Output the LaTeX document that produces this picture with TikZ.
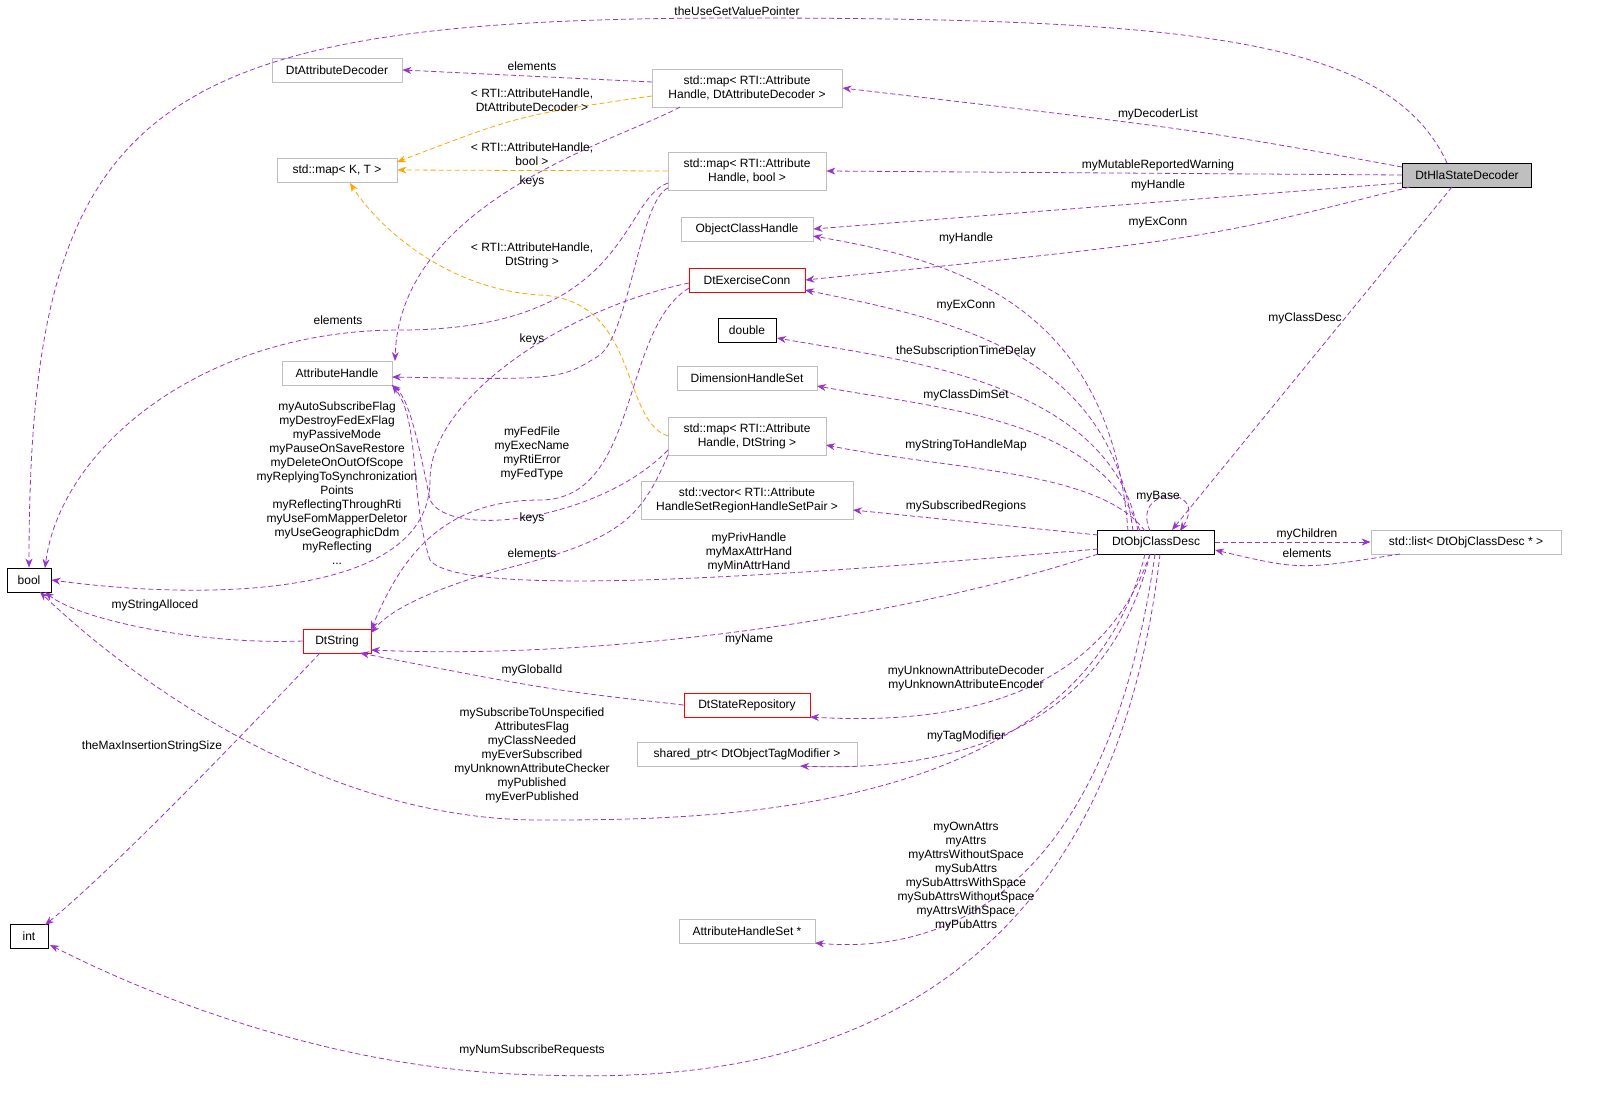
\documentclass[tikz,border=0pt]{standalone}
\usepackage{fontspec}
\setmainfont{Liberation Sans}
\usetikzlibrary{arrows.meta}
\definecolor{pur}{HTML}{9A32CD}
\definecolor{org}{HTML}{FFA500}
\definecolor{gb}{HTML}{BFBFBF}
\begin{document}
\begin{tikzpicture}[x=1pt,y=-1pt,
  font=\fontsize{12}{14}\selectfont,
  box/.style={draw=gb,fill=white,minimum height=24pt,inner sep=2pt,align=center,line width=0.8pt},
  bbox/.style={box,draw=black},
  rbox/.style={box,draw=red},
  e/.style={draw=pur,line width=0.8pt,dashed,dash pattern=on 5pt off 3pt,-{Stealth[length=9pt,width=7pt]}},
  o/.style={e,draw=org},
  lb/.style={align=center,inner sep=0pt}]
\useasboundingbox (0,0) rectangle (1619,1116);
% nodes
\node[bbox,minimum width=44pt] (bool) at (29,580) {bool};
\node[bbox,minimum width=38pt] (int) at (29,936) {int};
\node[bbox,fill=gb,minimum width=129pt] (hla) at (1467,175) {DtHlaStateDecoder};
\node[bbox,minimum width=117pt] (desc) at (1156,542) {DtObjClassDesc};
\node[box,minimum width=190pt] (list) at (1466,542) {std::list< DtObjClassDesc * >};
\node[box,minimum width=130pt] (dec) at (337,70) {DtAttributeDecoder};
\node[box,minimum width=190pt,minimum height=38pt] (mapad) at (747,88) {std::map< RTI::Attribute\\Handle, DtAttributeDecoder >};
\node[box,minimum width=120pt] (mapkt) at (337,170) {std::map< K, T >};
\node[box,minimum width=158pt,minimum height=38pt] (mapb) at (747,171) {std::map< RTI::Attribute\\Handle, bool >};
\node[box,minimum width=132pt] (och) at (747,229) {ObjectClassHandle};
\node[rbox,minimum width=116pt] (exc) at (747,280) {DtExerciseConn};
\node[bbox,minimum width=58pt] (dbl) at (747,330) {double};
\node[box,minimum width=110pt] (ah) at (337,373) {AttributeHandle};
\node[box,minimum width=140pt] (dhs) at (747,378) {DimensionHandleSet};
\node[box,minimum width=158pt,minimum height=38pt] (maps) at (747,436) {std::map< RTI::Attribute\\Handle, DtString >};
\node[box,minimum width=212pt,minimum height=38pt] (vec) at (747,500) {std::vector< RTI::Attribute\\HandleSetRegionHandleSetPair >};
\node[rbox,minimum width=68pt] (dts) at (337,641) {DtString};
\node[rbox,minimum width=126pt] (rep) at (747,705) {DtStateRepository};
\node[box,minimum width=220pt] (sp) at (747,754) {shared\_ptr< DtObjectTagModifier >};
\node[box,minimum width=136pt] (ahs) at (747,931) {AttributeHandleSet *};
% edges from hla
\draw[e] (1447,163) .. controls (1390,40) and (1200,18) .. (740,18) .. controls (150,18) and (29,100) .. (bool.north);
\draw[e] (1402,167) .. controls (1200,130) .. (mapad.east);
\draw[e] (1402,175) -- (mapb.east);
\draw[e] (1402,183) -- (och.east);
\draw[e] (1410,187) .. controls (1200,240) .. (exc.east);
\draw[e] (1452,187) -- (1172,530);
% map AD
\draw[e] (652,82) -- (dec.east);
\draw[o] (652,96) .. controls (520,115) .. (397,162);
\draw[e] (680,107) .. controls (620,140) and (400,200) .. (395,361);
% map bool
\draw[o] (mapb.west) -- (mapkt.east);
\draw[e] (668,183) .. controls (620,200) and (630,330) .. (400,330) .. controls (200,330) and (60,450) .. (45,568);
\draw[e] (668,188) .. controls (640,200) and (630,330) .. (600,355) .. controls (560,380) .. (392,377);
% map DtString
\draw[o] (668,436) .. controls (620,420) and (640,300) .. (540,295) .. controls (450,290) and (380,230) .. (350,183);
\draw[e] (668,450) .. controls (600,520) and (450,540) .. (430,500) .. controls (420,450) and (410,400) .. (392,385);
\draw[e] (668,455) .. controls (640,520) and (620,540) .. (500,570) .. controls (430,590) and (390,610) .. (371,633);
% ExConn
\draw[e] (689,283) .. controls (560,310) and (430,400) .. (430,480) .. controls (430,600) and (200,600) .. (bool.east);
\draw[e] (689,288) .. controls (620,330) and (640,500) .. (540,500) .. controls (440,500) and (400,560) .. (371,630);
% desc
\draw[e] (1128,531) .. controls (1110,300) and (950,260) .. (813,236);
\draw[e] (1133,531) .. controls (1110,350) and (950,320) .. (805,290);
\draw[e] (1138,531) .. controls (1110,380) and (900,360) .. (777,338);
\draw[e] (1140,531) .. controls (1100,420) and (950,410) .. (817,386);
\draw[e] (1145,531) .. controls (1100,470) and (950,470) .. (826,445);
\draw[e] (1098,535) .. controls (1000,525) .. (853,510);
\draw[e] (1150,531) .. controls (1130,485) and (1210,485) .. (1180,531);
\draw[e] (desc.east) -- (list.west);
\draw[e] (1400,554) .. controls (1300,570) .. (1215,550);
\draw[e] (1098,549) .. controls (800,575) and (460,600) .. (430,560) .. controls (410,500) and (420,420) .. (392,385);
\draw[e] (1098,554) .. controls (900,620) and (600,660) .. (371,650);
\draw[e] (dts.west) .. controls (200,645) and (80,620) .. (45,592);
\draw[e] (320,653) .. controls (200,780) and (100,880) .. (45,925);
\draw[e] (rep.west) .. controls (550,690) .. (360,653);
\draw[e] (1150,554) .. controls (1100,700) and (950,725) .. (810,717);
\draw[e] (1150,554) .. controls (1100,760) and (900,770) .. (800,766);
\draw[e] (1145,554) .. controls (1080,820) and (700,820) .. (540,820) .. controls (300,820) and (100,650) .. (40,592);
\draw[e] (1155,554) .. controls (1100,940) and (900,950) .. (815,943);
\draw[e] (1160,554) .. controls (1100,1080) and (700,1080) .. (540,1075) .. controls (300,1070) and (100,970) .. (50,945);
% labels
\node[lb] (l1) at (737,11) {theUseGetValuePointer};
\node[lb] (l2) at (1158,114) {myDecoderList};
\node[lb] (l3) at (1158,165) {myMutableReportedWarning};
\node[lb] (l4) at (1158,185) {myHandle};
\node[lb] (l5) at (1158,223) {myExConn};
\node[lb] (l6) at (1305,318) {myClassDesc};
\node[lb] (l7) at (532,66) {elements};
\node[lb] (l8) at (532,100) {< RTI::AttributeHandle,\\DtAttributeDecoder >};
\node[lb] (l9) at (532,181) {keys};
\node[lb] (l10) at (532,154) {< RTI::AttributeHandle,\\bool >};
\node[lb] (l11) at (338,320) {elements};
\node[lb] (l12) at (532,255) {< RTI::AttributeHandle,\\DtString >};
\node[lb] (l13) at (532,339) {keys};
\node[lb] (l14) at (337,483) {myAutoSubscribeFlag\\myDestroyFedExFlag\\myPassiveMode\\myPauseOnSaveRestore\\myDeleteOnOutOfScope\\myReplyingToSynchronization\\Points\\myReflectingThroughRti\\myUseFomMapperDeletor\\myUseGeographicDdm\\myReflecting\\...};
\node[lb] (l15) at (532,453) {myFedFile\\myExecName\\myRtiError\\myFedType};
\node[lb] (l16) at (532,518) {keys};
\node[lb] (l17) at (532,553) {elements};
\node[lb] (l18) at (966,238) {myHandle};
\node[lb] (l19) at (966,306) {myExConn};
\node[lb] (l20) at (966,351) {theSubscriptionTimeDelay};
\node[lb] (l21) at (966,395) {myClassDimSet};
\node[lb] (l22) at (966,445) {myStringToHandleMap};
\node[lb] (l23) at (966,506) {mySubscribedRegions};
\node[lb] (l24) at (1158,497) {myBase};
\node[lb] (l25) at (1307,534) {myChildren};
\node[lb] (l26) at (1307,553) {elements};
\node[lb] (l27) at (749,552) {myPrivHandle\\myMaxAttrHand\\myMinAttrHand};
\node[lb] (l28) at (749,640) {myName};
\node[lb] (l29) at (155,605) {myStringAlloced};
\node[lb] (l30) at (152,746) {theMaxInsertionStringSize};
\node[lb] (l31) at (532,670) {myGlobalId};
\node[lb] (l32) at (966,678) {myUnknownAttributeDecoder\\myUnknownAttributeEncoder};
\node[lb] (l33) at (966,736) {myTagModifier};
\node[lb] (l34) at (532,755) {mySubscribeToUnspecified\\AttributesFlag\\myClassNeeded\\myEverSubscribed\\myUnknownAttributeChecker\\myPublished\\myEverPublished};
\node[lb] (l35) at (966,877) {myOwnAttrs\\myAttrs\\myAttrsWithoutSpace\\mySubAttrs\\mySubAttrsWithSpace\\mySubAttrsWithoutSpace\\myAttrsWithSpace\\myPubAttrs};
\node[lb] (l36) at (532,1050) {myNumSubscribeRequests};
\end{tikzpicture}
\end{document}
